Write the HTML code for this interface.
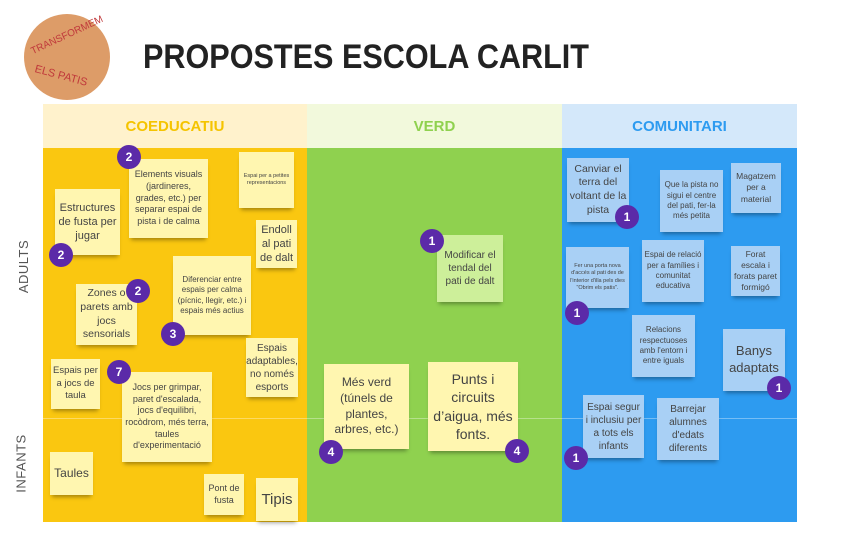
<!DOCTYPE html>
<html><head><meta charset="utf-8"><style>
*{margin:0;padding:0;box-sizing:border-box}
body{width:841px;height:557px;background:#fff;position:relative;overflow:hidden;font-family:"Liberation Sans",sans-serif}
.a{position:absolute}
.n{position:absolute;display:flex;align-items:center;justify-content:center;text-align:center;color:#444;line-height:1.3;box-shadow:0 4px 4px -2px rgba(0,0,0,.35);padding:2px}
.y{background:#fff6b0}
.g{background:#cdef9a}
.b{background:#a9d0f5}
.c{position:absolute;width:24px;height:24px;border-radius:50%;background:#5b2aa8;color:#fff;font-size:12px;font-weight:bold;display:flex;align-items:center;justify-content:center}
.h{position:absolute;top:104px;height:44px;display:flex;align-items:center;justify-content:center;font-weight:bold;font-size:15px}
.side{position:absolute;transform:rotate(-90deg);color:#555;font-size:13px;letter-spacing:.5px}
</style></head><body>
<div class="a" style="left:24px;top:14px;width:86px;height:86px;border-radius:50%;background:#dd9c68"></div>
<div class="a" style="left:28px;top:30px;font-size:10px;color:#c0393b;transform:rotate(-25deg)">TRANSFORMEM</div>
<div class="a" style="left:34px;top:70px;font-size:11px;color:#c0393b;transform:rotate(15deg)">ELS PATIS</div>
<div class="a" style="left:143px;top:38px;font-size:34px;font-weight:bold;color:#222;transform-origin:0 0;transform:scaleX(0.9);white-space:nowrap">PROPOSTES ESCOLA CARLIT</div>

<div class="h" style="left:43px;width:264px;background:#fff2cc;color:#f5c400">COEDUCATIU</div>
<div class="h" style="left:307px;width:255px;background:#f2f9dc;color:#8fd14f">VERD</div>
<div class="h" style="left:562px;width:235px;background:#d4e8fa;color:#2d9bf0">COMUNITARI</div>
<div class="a" style="left:43px;top:148px;width:264px;height:374px;background:#fac710"></div>
<div class="a" style="left:307px;top:148px;width:255px;height:374px;background:#8fd14f"></div>
<div class="a" style="left:562px;top:148px;width:235px;height:374px;background:#2d9bf0"></div>
<div class="a" style="left:43px;top:418px;width:754px;height:1px;background:rgba(255,255,255,.35)"></div>
<div class="side" style="left:-3px;top:259px">ADULTS</div>
<div class="side" style="left:-8px;top:456px">INFANTS</div>

<div class="n y" style="left:55px;top:189px;width:65px;height:66px;font-size:11px">Estructures de fusta per jugar</div>
<div class="n y" style="left:129px;top:159px;width:79px;height:79px;font-size:9px">Elements visuals (jardineres, grades, etc.) per separar espai de pista i de calma</div>
<div class="n y" style="left:239px;top:152px;width:55px;height:56px;font-size:5.5px">Espai per a petites representacions</div>
<div class="n y" style="left:256px;top:220px;width:41px;height:48px;font-size:11px">Endoll al pati de dalt</div>
<div class="n y" style="left:173px;top:256px;width:78px;height:79px;font-size:8px">Diferenciar entre espais per calma (pícnic, llegir, etc.) i espais més actius</div>
<div class="n y" style="left:76px;top:284px;width:61px;height:61px;font-size:10.5px">Zones o parets amb jocs sensorials</div>
<div class="n y" style="left:246px;top:338px;width:52px;height:59px;font-size:10px">Espais adaptables, no només esports</div>
<div class="n y" style="left:51px;top:359px;width:49px;height:50px;font-size:9.5px">Espais per a jocs de taula</div>
<div class="n y" style="left:122px;top:372px;width:90px;height:90px;font-size:9px">Jocs per grimpar, paret d'escalada, jocs d'equilibri, rocòdrom, més terra, taules d'experimentació</div>
<div class="n y" style="left:50px;top:452px;width:43px;height:43px;font-size:12px">Taules</div>
<div class="n y" style="left:204px;top:474px;width:40px;height:41px;font-size:9px">Pont de fusta</div>
<div class="n y" style="left:256px;top:478px;width:42px;height:43px;font-size:15px">Tipis</div>
<div class="c" style="left:117px;top:145px">2</div>
<div class="c" style="left:49px;top:243px">2</div>
<div class="c" style="left:126px;top:279px">2</div>
<div class="c" style="left:161px;top:322px">3</div>
<div class="c" style="left:107px;top:360px">7</div>

<div class="n g" style="left:437px;top:235px;width:66px;height:67px;font-size:10px">Modificar el tendal del pati de dalt</div>
<div class="n y" style="left:324px;top:364px;width:85px;height:85px;font-size:12px">Més verd (túnels de plantes, arbres, etc.)</div>
<div class="n y" style="left:428px;top:362px;width:90px;height:89px;font-size:14px">Punts i circuits d’aigua, més fonts.</div>
<div class="c" style="left:420px;top:229px">1</div>
<div class="c" style="left:319px;top:440px">4</div>
<div class="c" style="left:505px;top:439px">4</div>

<div class="n b" style="left:567px;top:158px;width:62px;height:64px;font-size:10.5px">Canviar el terra del voltant de la pista</div>
<div class="n b" style="left:660px;top:170px;width:63px;height:62px;font-size:8px">Que la pista no sigui el centre del pati, fer-la més petita</div>
<div class="n b" style="left:731px;top:163px;width:50px;height:50px;font-size:8.5px">Magatzem per a material</div>
<div class="n b" style="left:566px;top:247px;width:63px;height:61px;font-size:5.5px">Fer una porta nova d'accés al pati des de l'interior d'illa pels dies "Obrim els patis".</div>
<div class="n b" style="left:642px;top:240px;width:62px;height:62px;font-size:8px">Espai de relació per a famílies i comunitat educativa</div>
<div class="n b" style="left:731px;top:246px;width:49px;height:50px;font-size:8.5px">Forat escala i forats paret formigó</div>
<div class="n b" style="left:632px;top:315px;width:63px;height:62px;font-size:8px">Relacions respectuoses amb l'entorn i entre iguals</div>
<div class="n b" style="left:723px;top:329px;width:62px;height:62px;font-size:13px">Banys adaptats</div>
<div class="n b" style="left:583px;top:395px;width:61px;height:63px;font-size:10px">Espai segur i inclusiu per a tots els infants</div>
<div class="n b" style="left:657px;top:398px;width:62px;height:62px;font-size:10px">Barrejar alumnes d'edats diferents</div>
<div class="c" style="left:615px;top:205px">1</div>
<div class="c" style="left:565px;top:301px">1</div>
<div class="c" style="left:767px;top:376px">1</div>
<div class="c" style="left:564px;top:446px">1</div>
</body></html>
